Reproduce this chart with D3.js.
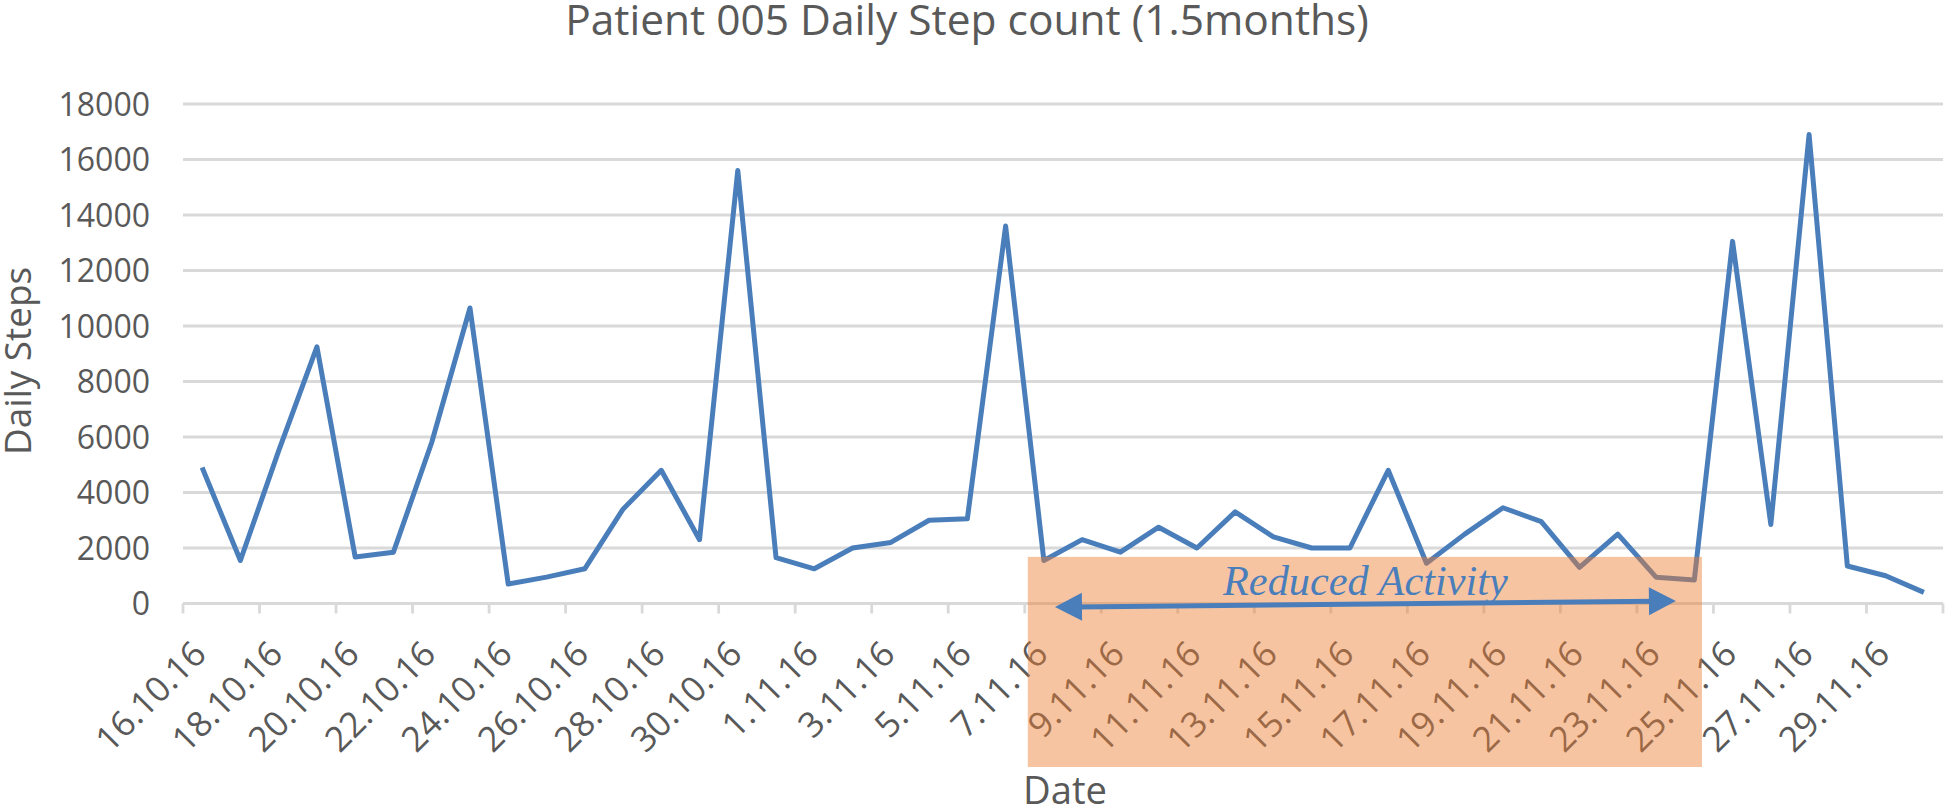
<!DOCTYPE html>
<html><head><meta charset="utf-8">
<script src="https://cdn.jsdelivr.net/npm/d3@7"></script>
<style>html,body{margin:0;padding:0;background:#fff;overflow:hidden}svg{display:block}</style>
</head><body>
<svg id="c" width="1946" height="809"></svg>
<script>
// ---- data ----
const dates = ["16.10.16","17.10.16","18.10.16","19.10.16","20.10.16","21.10.16","22.10.16","23.10.16",
"24.10.16","25.10.16","26.10.16","27.10.16","28.10.16","29.10.16","30.10.16","31.10.16",
"1.11.16","2.11.16","3.11.16","4.11.16","5.11.16","6.11.16","7.11.16","8.11.16","9.11.16",
"10.11.16","11.11.16","12.11.16","13.11.16","14.11.16","15.11.16","16.11.16","17.11.16",
"18.11.16","19.11.16","20.11.16","21.11.16","22.11.16","23.11.16","24.11.16","25.11.16",
"26.11.16","27.11.16","28.11.16","29.11.16","30.11.16"];
const steps = [4900,1550,5500,9250,1675,1850,5800,10650,
700,950,1250,3400,4800,2300,15600,1650,
1250,2000,2200,3000,3050,13600,1550,2300,1850,
2750,2000,3300,2400,2000,2000,4800,1450,
2500,3450,2950,1300,2500,950,850,13050,
2850,16900,1350,1000,400];
const yTicks = [0,2000,4000,6000,8000,10000,12000,14000,16000,18000];
const xLabels = dates.filter((d,i)=>i%2===0);
const titleText = "Patient 005 Daily Step count (1.5months)";
const yTitle = "Daily Steps";
const xTitle = "Date";
const noteText = "Reduced Activity";
// annotation span in day-index units and step units
const noteSpan = {from:22.08, to:39.7, top:1680};
const arrowSpan = {from:22.79, to:39.02, yFrom:-130, yTo:90};

// ---- drawing ----
const svg = d3.select("#c");
const L=183, R=1943, T=104, B=603.5;
const x = d3.scaleBand().domain(dates).range([L,R]).padding(0);
const xi = d3.scaleLinear().domain([0,dates.length]).range([L,R]);
const y = d3.scaleLinear().domain([0,18000]).range([B,T]);
const grey="#595959", grid="#d9d9d9", blue="#4a7ebb";
const font="'Open Sans', sans-serif";

function fit(sel,target){const w=sel.node().getComputedTextLength();const fs=parseFloat(sel.attr("font-size"));sel.attr("font-size",fs*target/w);}

// gridlines
svg.append("g").selectAll("line").data(yTicks).join("line")
  .attr("x1",L).attr("x2",R).attr("y1",d=>y(d)).attr("y2",d=>y(d))
  .attr("stroke",grid).attr("stroke-width",2.8);
// ticks on x axis
const tickIdx = d3.range(0,dates.length+1,2);
svg.append("g").selectAll("line").data(tickIdx).join("line")
  .attr("x1",d=>xi(d)).attr("x2",d=>xi(d)).attr("y1",B).attr("y2",B+10)
  .attr("stroke",grid).attr("stroke-width",2.8);
// y labels
svg.append("g").selectAll("text").data(yTicks).join("text")
  .attr("x",150).attr("y",d=>y(d)+11.5).attr("text-anchor","end")
  .attr("font-family",font).attr("font-size",32).attr("fill",grey).text(d=>d);
// x labels
svg.append("g").selectAll("text").data(xLabels).join("text")
  .attr("transform",d=>`translate(${x(d)+x.bandwidth()/2+6},${656}) rotate(-45)`)
  .attr("text-anchor","end").attr("font-family",font).attr("font-size",35).attr("fill",grey).text(d=>d);
// line
svg.append("path").datum(steps)
  .attr("d",d3.line().x((d,i)=>x(dates[i])+x.bandwidth()/2).y(d=>y(d)))
  .attr("fill","none").attr("stroke",blue).attr("stroke-width",5).attr("stroke-linejoin","round");
// titles
const tt=svg.append("text").attr("x",967).attr("y",35).attr("text-anchor","middle")
  .attr("font-family",font).attr("font-size",36).attr("fill",grey).text(titleText);
fit(tt,804);
const yt=svg.append("text").attr("transform","translate(31,361) rotate(-90)").attr("text-anchor","middle")
  .attr("font-family",font).attr("font-size",36).attr("fill",grey).text(yTitle);
fit(yt,188);
const xt=svg.append("text").attr("x",1065).attr("y",804).attr("text-anchor","middle")
  .attr("font-family",font).attr("font-size",36).attr("fill",grey).text(xTitle);
fit(xt,84);
// highlight rect
svg.append("rect").attr("x",xi(noteSpan.from)).attr("width",xi(noteSpan.to)-xi(noteSpan.from))
  .attr("y",y(noteSpan.top)).attr("height",767-y(noteSpan.top))
  .attr("fill","#ED7D31").attr("fill-opacity",0.45);
// arrow
const ax1=xi(arrowSpan.from), ay1=y(arrowSpan.yFrom), ax2=xi(arrowSpan.to), ay2=y(arrowSpan.yTo);
const hl=27, hw=14;
const ang=Math.atan2(ay2-ay1,ax2-ax1), ca=Math.cos(ang), sa=Math.sin(ang);
svg.append("line").attr("x1",ax1+hl*ca*0.8).attr("y1",ay1+hl*sa*0.8).attr("x2",ax2-hl*ca*0.8).attr("y2",ay2-hl*sa*0.8)
  .attr("stroke",blue).attr("stroke-width",5);
function head(px,py,dir){
  const bx=px-dir*hl*ca, by=py-dir*hl*sa;
  return [[px,py],[bx-hw*sa,by+hw*ca],[bx+hw*sa,by-hw*ca]];
}
svg.append("g").selectAll("path").data([head(ax1,ay1,-1),head(ax2,ay2,1)]).join("path")
  .attr("d",d=>"M"+d.map(p=>p.join(",")).join("L")+"Z").attr("fill",blue);
const nt=svg.append("text").attr("x",1223).attr("y",595)
  .attr("font-family","'Liberation Serif', serif").attr("font-style","italic").attr("font-size",40)
  .attr("fill",blue).text(noteText);
fit(nt,285);
</script>
</body></html>
